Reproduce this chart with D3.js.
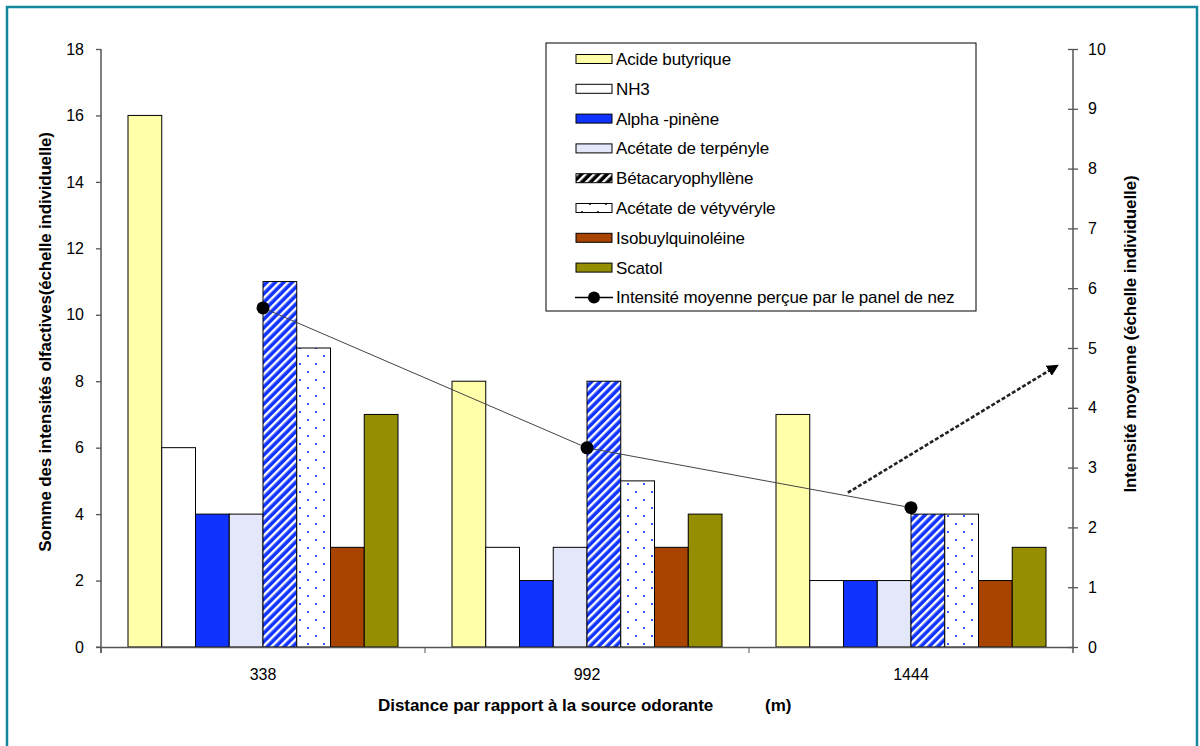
<!DOCTYPE html>
<html>
<head>
<meta charset="utf-8">
<script src="https://cdn.jsdelivr.net/npm/d3@7/dist/d3.min.js"></script>
<style>
  html, body { margin: 0; padding: 0; background: #fff; }
  svg { display: block; font-family: "Liberation Sans", Arial, sans-serif; }
</style>
</head>
<body>
<svg id="chart" width="1200" height="746"></svg>
<script>
// Distances to the odour source (m)
const categories = ["338", "992", "1444"];

// Summed olfactory intensity per compound
const acideButyrique = [16, 8, 7];
const nh3 = [6, 3, 2];
const alphaPinene = [4, 2, 2];
const acetateTerpenyle = [4, 3, 2];
const betacaryophyllene = [11, 8, 4];
const acetateVetyveryle = [9, 5, 4];
const isobutylquinoleine = [3, 3, 2];
const scatol = [7, 4, 3];

// Mean intensity perceived by the panel (right axis)
const intensiteMoyenne = [5.67, 3.33, 2.33];

const seriesNames = ["Acide butyrique", "NH3", "Alpha -pinène", "Acétate de terpényle",
  "Bétacaryophyllène", "Acétate de vétyvéryle", "Isobuylquinoléine", "Scatol"];
const lineName = "Intensité moyenne perçue par le panel de nez";

const leftTicks = [0, 2, 4, 6, 8, 10, 12, 14, 16, 18];
const rightTicks = [0, 1, 2, 3, 4, 5, 6, 7, 8, 9, 10];

const seriesValues = [acideButyrique, nh3, alphaPinene, acetateTerpenyle,
  betacaryophyllene, acetateVetyveryle, isobutylquinoleine, scatol];

// Fills: plain colours or pattern ids
const fills = ["#FFFFAA", "#FFFFFF", "#1133FF", "#E4E6FA",
  "url(#stripes)", "url(#dots)", "#A84400", "#948E00"];
const legendFills = ["#FFFFAA", "#FFFFFF", "#1133FF", "#E4E6FA",
  "url(#stripesLegend)", "url(#dotsLegend)", "#A84400", "#948E00"];

// Annotation arrow, in (category, offset within band, right-axis value)
const arrowFrom = { cat: "1444", offset: 0.305, value: 2.58 };
const arrowTo = { cat: "1444", offset: 0.95, value: 4.7 };

const svg = d3.select("#chart");
const margin = { left: 101, right: 127, top: 49, bottom: 99 };
const W = 1200, H = 746;
const x0 = margin.left, x1 = W - margin.right;
const yTop = margin.top, yBot = H - margin.bottom;

// Frame
svg.append("path")
  .attr("d", `M7,${H} L7,7 L1197,7 L1197,${H}`)
  .attr("fill", "none").attr("stroke", "#15879E").attr("stroke-width", 2.5);

// Patterns
const defs = svg.append("defs");
function stripePattern(id, bg) {
  const p = defs.append("pattern").attr("id", id)
    .attr("patternUnits", "userSpaceOnUse").attr("width", 6).attr("height", 6)
    .attr("patternTransform", "rotate(45)");
  p.append("rect").attr("width", 6).attr("height", 6).attr("fill", bg);
  p.append("rect").attr("x", 0).attr("width", 2.4).attr("height", 6).attr("fill", "#fff");
}
stripePattern("stripes", "#1133FF");
stripePattern("stripesLegend", "#000");
function dotPattern(id, col) {
  const p = defs.append("pattern").attr("id", id)
    .attr("patternUnits", "userSpaceOnUse").attr("width", 16).attr("height", 16);
  p.append("rect").attr("width", 16).attr("height", 16).attr("fill", "#fff");
  p.append("rect").attr("x", 3).attr("y", 3).attr("width", 2).attr("height", 2).attr("fill", col);
  p.append("rect").attr("x", 11).attr("y", 11).attr("width", 2).attr("height", 2).attr("fill", col);
}
dotPattern("dots", "#3355FF");
dotPattern("dotsLegend", "#444");

// Scales
const xBand = d3.scaleBand().domain(categories).range([x0, x1]).padding(0);
const bw = xBand.bandwidth();
const gap = bw / 6;
const xSeries = d3.scaleBand().domain(d3.range(seriesNames.length)).range([gap / 2, bw - gap / 2]).padding(0);
const yLeft = d3.scaleLinear().domain([0, 18]).range([yBot, yTop]);
const yRight = d3.scaleLinear().domain([0, 10]).range([yBot, yTop]);

// Bars
const barData = [];
categories.forEach((c, ci) => {
  seriesValues.forEach((vals, si) => barData.push({ c, si, v: vals[ci] }));
});
svg.append("g").selectAll("rect").data(barData).join("rect")
  .attr("x", d => xBand(d.c) + xSeries(d.si))
  .attr("y", d => yLeft(d.v))
  .attr("width", xSeries.bandwidth())
  .attr("height", d => yBot - yLeft(d.v))
  .attr("fill", d => fills[d.si])
  .attr("stroke", "#000").attr("stroke-width", 1);

// Axes
const axisColor = "#555";
const gL = svg.append("g").attr("transform", `translate(${x0},0)`)
  .call(d3.axisLeft(yLeft).tickValues(leftTicks).tickSize(5).tickPadding(12));
const gR = svg.append("g").attr("transform", `translate(${x1},0)`)
  .call(d3.axisRight(yRight).tickValues(rightTicks).tickSize(5).tickPadding(10));
gR.selectAll(".tick line").attr("x1", -5);
const gB = svg.append("g").attr("transform", `translate(0,${yBot})`)
  .call(d3.axisBottom(xBand).tickValues([]).tickSizeOuter(0));
// category boundary ticks
svg.append("g").selectAll("line").data(categories).join("line")
  .attr("x1", d => xBand(d)).attr("x2", d => xBand(d))
  .attr("y1", yBot).attr("y2", yBot + 6)
  .attr("stroke", axisColor);
svg.append("line").attr("x1", x0 - 5).attr("x2", x0).attr("y1", yBot).attr("y2", yBot).attr("stroke", axisColor);
svg.append("g").selectAll("text").data(categories).join("text")
  .attr("x", d => xBand(d) + bw / 2).attr("y", yBot + 33)
  .attr("text-anchor", "middle").attr("font-size", 16).attr("fill", "#000").text(d => d);

[gL, gR, gB].forEach(g => {
  g.selectAll(".domain").attr("stroke", axisColor).attr("stroke-width", 1.5);
  g.selectAll(".tick line").attr("stroke", axisColor).attr("stroke-width", 1.3);
  g.selectAll(".tick text").attr("font-size", 16).attr("fill", "#000")
    .attr("font-family", "'Liberation Sans', Arial, sans-serif");
});
gL.select(".domain").attr("d", `M0,${yTop}V${yBot + 6}`);
gR.select(".domain").attr("d", `M0,${yTop}V${yBot + 6}`);

// Axis titles
svg.append("text")
  .attr("transform", `translate(51,${(yTop + yBot) / 2 - 6}) rotate(-90)`)
  .attr("text-anchor", "middle").attr("font-size", 17).attr("font-weight", "bold")
  .attr("letter-spacing", -0.2)
  .text("Somme des intensités olfactives(échelle individuelle)");
svg.append("text")
  .attr("transform", `translate(1136,${(yTop + yBot) / 2 - 14}) rotate(-90)`)
  .attr("text-anchor", "middle").attr("font-size", 17).attr("font-weight", "bold")
  .attr("letter-spacing", -0.1)
  .text("Intensité moyenne (échelle individuelle)");
svg.append("text")
  .attr("x", 378).attr("y", 711).attr("font-size", 17).attr("font-weight", "bold")
  .attr("letter-spacing", -0.05)
  .text("Distance par rapport à la source odorante");
svg.append("text")
  .attr("x", 765).attr("y", 711).attr("font-size", 17).attr("font-weight", "bold")
  .text("(m)");

// Mean intensity line
const linePts = categories.map((c, i) => [xBand(c) + bw / 2, yRight(intensiteMoyenne[i])]);
svg.append("path")
  .attr("d", d3.line()(linePts))
  .attr("fill", "none").attr("stroke", "#444").attr("stroke-width", 1);
svg.append("g").selectAll("circle").data(linePts).join("circle")
  .attr("cx", d => d[0]).attr("cy", d => d[1]).attr("r", 6.5).attr("fill", "#000");

// Annotation arrow
defs.append("marker").attr("id", "arrowHead")
  .attr("viewBox", "0 0 10 10").attr("refX", 8).attr("refY", 5)
  .attr("markerWidth", 4.5).attr("markerHeight", 4.5).attr("orient", "auto")
  .append("path").attr("d", "M0,0 L10,5 L0,10 Z").attr("fill", "#000");
const ax1 = xBand(arrowFrom.cat) + bw * arrowFrom.offset, ay1 = yRight(arrowFrom.value);
const ax2 = xBand(arrowTo.cat) + bw * arrowTo.offset, ay2 = yRight(arrowTo.value);
svg.append("line").attr("x1", ax1).attr("y1", ay1).attr("x2", ax2).attr("y2", ay2)
  .attr("stroke", "#222").attr("stroke-width", 2.6).attr("stroke-dasharray", "4,2")
  .attr("marker-end", "url(#arrowHead)");

// Legend
const lg = svg.append("g").attr("transform", "translate(546,43)");
lg.append("rect").attr("width", 430).attr("height", 268)
  .attr("fill", "#fff").attr("stroke", "#000").attr("stroke-width", 1);
const rowY = i => 16 + i * 29.8;
const items = lg.selectAll("g.item").data(seriesNames).join("g").attr("class", "item")
  .attr("transform", (d, i) => `translate(0,${rowY(i)})`);
items.append("rect").attr("x", 30).attr("y", -4.5).attr("width", 36).attr("height", 9)
  .attr("fill", (d, i) => legendFills[i]).attr("stroke", "#000").attr("stroke-width", 1);
items.append("text").attr("x", 70).attr("y", 6).attr("font-size", 17)
  .attr("letter-spacing", -0.15).text(d => d);
const li = lg.append("g").attr("transform", `translate(0,${rowY(8)})`);
li.append("line").attr("x1", 29).attr("x2", 67).attr("y1", 0).attr("y2", 0)
  .attr("stroke", "#000").attr("stroke-width", 1.5);
li.append("circle").attr("cx", 48).attr("cy", 0).attr("r", 6).attr("fill", "#000");
li.append("text").attr("x", 70).attr("y", 6).attr("font-size", 17)
  .attr("letter-spacing", -0.15).text(lineName);
</script>
</body>
</html>
